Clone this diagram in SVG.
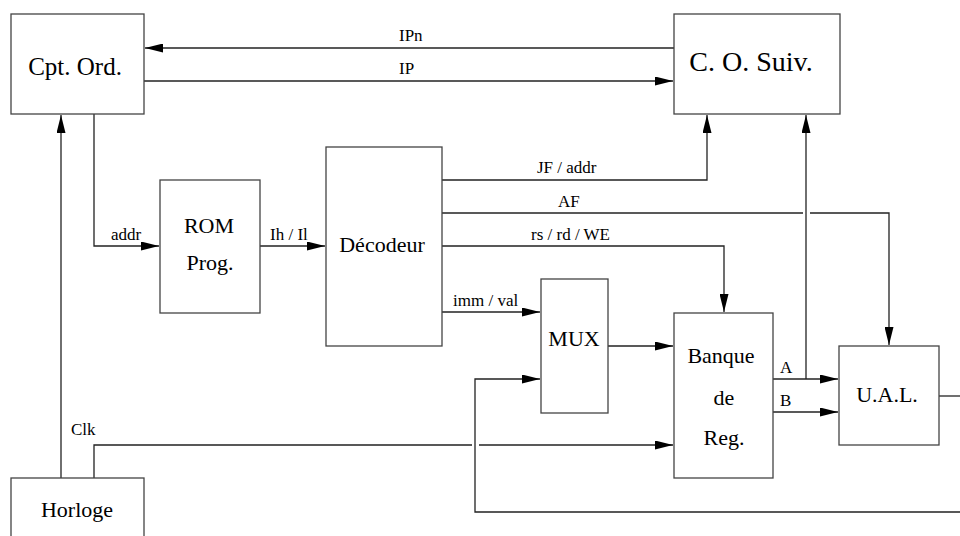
<svg xmlns="http://www.w3.org/2000/svg" width="960" height="536" viewBox="0 0 960 536">
<style>
.box{fill:#fff;stroke:#444;stroke-width:1.3}
.wire{fill:none;stroke:#222;stroke-width:1.3}
.lbl{font-family:'Liberation Serif','Times New Roman',serif;font-size:17px;fill:#000}
.node{font-family:'Liberation Serif','Times New Roman',serif;font-size:22px;fill:#000;text-anchor:middle}
</style>
<defs>
<marker id="arr" markerUnits="userSpaceOnUse" markerWidth="18" markerHeight="9" refX="18" refY="4.5" orient="auto" viewBox="0 0 18 9">
<path d="M0,0 L18,4.5 L0,9 z" fill="#000"/>
</marker>
</defs>
<rect width="960" height="536" fill="#fff"/>
<g id="connectors">
<path class="wire" d="M674,48 H145" marker-end="url(#arr)"/>
<path class="wire" d="M144,81 H673" marker-end="url(#arr)"/>
<path class="wire" d="M94,114 V246 H159" marker-end="url(#arr)"/>
<path class="wire" d="M260,246 H325" marker-end="url(#arr)"/>
<path class="wire" d="M442,180 H707 V115" marker-end="url(#arr)"/>
<path class="wire" d="M442,213 H803"/>
<path class="wire" d="M810,213 H889 V345" marker-end="url(#arr)"/>
<path class="wire" d="M442,246 H724 V312" marker-end="url(#arr)"/>
<path class="wire" d="M442,312 H540" marker-end="url(#arr)"/>
<path class="wire" d="M608,346 H673" marker-end="url(#arr)"/>
<path class="wire" d="M773,379 H838" marker-end="url(#arr)"/>
<path class="wire" d="M806,379 V115" marker-end="url(#arr)"/>
<path class="wire" d="M773,412 H838" marker-end="url(#arr)"/>
<path class="wire" d="M939,396 H962"/>
<path class="wire" d="M962,512 H475 V379 H540" marker-end="url(#arr)"/>
<path class="wire" d="M94,478 V445 H472"/>
<path class="wire" d="M479,445 H673" marker-end="url(#arr)"/>
<path class="wire" d="M61,478 V115" marker-end="url(#arr)"/>
<text class="lbl" x="399" y="41">IPn</text>
<text class="lbl" x="399" y="74">IP</text>
<text class="lbl" x="111" y="240">addr</text>
<text class="lbl" x="270" y="240">Ih / Il</text>
<text class="lbl" x="537" y="173">JF / addr</text>
<text class="lbl" x="558" y="207">AF</text>
<text class="lbl" x="531" y="240">rs / rd / WE</text>
<text class="lbl" x="453" y="306">imm / val</text>
<text class="lbl" x="780" y="373">A</text>
<text class="lbl" x="780" y="406">B</text>
<text class="lbl" x="71" y="435">Clk</text>
</g>
<g id="cpt_ord">
<rect class="box" x="11" y="14" width="133" height="100"/>
<text class="node" x="75" y="75" style="font-size:25px">Cpt. Ord.</text>
</g>
<g id="co_suiv">
<rect class="box" x="674" y="14" width="166" height="100"/>
<text class="node" x="751" y="71" style="font-size:28px">C. O. Suiv.</text>
</g>
<g id="rom">
<rect class="box" x="160" y="180" width="100" height="133"/>
<text class="node" x="209" y="233">ROM</text>
<text class="node" x="210" y="270">Prog.</text>
</g>
<g id="decodeur">
<rect class="box" x="326" y="147" width="116" height="199"/>
<text class="node" x="382" y="252">Décodeur</text>
</g>
<g id="mux">
<rect class="box" x="541" y="279" width="67" height="134"/>
<text class="node" x="574" y="346">MUX</text>
</g>
<g id="banque">
<rect class="box" x="674" y="313" width="99" height="165"/>
<text class="node" x="721" y="363">Banque</text>
<text class="node" x="724" y="405">de</text>
<text class="node" x="724" y="445">Reg.</text>
</g>
<g id="ual">
<rect class="box" x="839" y="346" width="100" height="99"/>
<text class="node" x="887" y="402">U.A.L.</text>
</g>
<g id="horloge">
<rect class="box" x="11" y="478" width="133" height="100"/>
<text class="node" x="77" y="517">Horloge</text>
</g>
</svg>
